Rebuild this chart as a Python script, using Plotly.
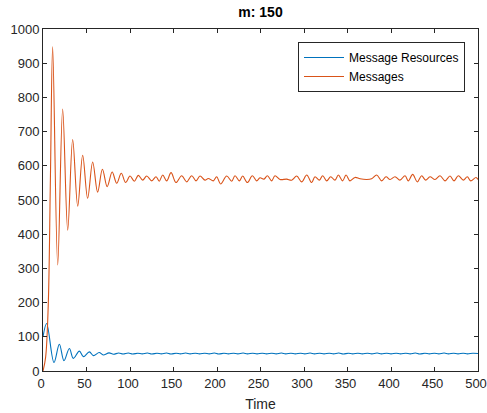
import plotly.graph_objects as go

# Simulation output for m = 150: turning points of each series over time
msg_t = [0, 3, 6, 8.5, 11.1, 16.9, 22.6, 28.4, 34.1, 39.9, 45.6, 51.3, 57.1, 62.8,
         68.3, 73.8, 79.5, 84.7, 90, 95, 100, 105, 109.6, 114.6, 119.2, 125, 129.9,
         133.6, 137.6, 142.2, 147.2, 152.9, 159.4, 165.1, 170.9, 175.9, 180.5, 186.2,
         190.0, 195.8, 199.6, 204.2, 211.1, 216.9, 220.7, 225.7, 229.5, 234.9, 240.6,
         245.6, 249.4, 254.0, 257.9, 262.8, 266.7, 272.4, 280.1, 285.8, 291.6, 297.3,
         303.1, 308.8, 312.6, 317.7, 321.5, 326.1, 330.7, 335.6, 339.5, 344.4, 348.3,
         352.9, 358.6, 364.4, 372.0, 377.7, 383.6, 389.3, 394.3, 398.9, 404.6, 410.3,
         416.1, 419.9, 424.9, 430.3, 435.2, 439.8, 444.8, 450.6, 456.3, 462.1, 467.8,
         472.4, 477.4, 483.1, 487.7, 491.6, 497.7, 500]
msg_v = [0, 40, 190, 560, 948, 310, 766, 412, 677, 482, 631, 505, 611, 523,
         590, 539, 582, 549, 578, 551, 570, 555, 572, 558, 570, 556, 568,
         555, 573, 556, 580, 551, 571, 553, 571, 556, 570, 558,
         563, 556, 568, 547, 570, 555, 571, 556, 570, 551, 571,
         556, 565, 561, 571, 556, 571, 560, 561, 558, 570, 553,
         573, 551, 568, 558, 571, 556, 568, 558, 573, 556, 573,
         556, 566, 562, 560, 562, 573, 556, 568, 560, 568, 558,
         571, 556, 575, 553, 571, 558, 568, 560, 571, 556, 570,
         556, 571, 558, 568, 556, 566, 560]

res_t = [0, 4.2, 12.6, 18.8, 24.1, 30.3, 34.9, 41.8, 46.4, 53.3, 58, 64.6, 69.2, 75.9,
         81, 87, 92, 98, 103, 109, 114, 120, 125, 131, 136, 142, 147, 153, 158, 164,
         169, 175, 180, 186, 191, 197, 202, 208, 213, 219, 224, 230, 235, 241, 246,
         252, 257, 263, 268, 274, 279, 285, 290, 296, 301, 307, 312, 318, 323, 329,
         334, 340, 345, 351, 356, 362, 367, 373, 378, 384, 389, 395, 400, 406, 411,
         417, 422, 428, 433, 439, 444, 450, 455, 461, 466, 472, 477, 483, 488, 494, 500]
res_v = [100, 139, 25, 78, 30, 66, 37, 58, 42, 56, 45, 54, 47, 53,
         49, 52.5, 49.5, 52.5, 49.5, 52, 50, 52.5, 49.5, 52, 50, 52.5, 49.5, 52, 50, 52.5,
         50, 52, 50, 52, 50, 52.5, 49.5, 52, 50, 52, 50, 52.5, 50, 52, 50,
         52, 50, 52, 50, 52.5, 50, 52, 50, 52, 50, 52.5, 50, 52, 50, 52,
         50, 52.5, 49.5, 52, 50, 52, 50, 52, 50, 52.5, 50, 52, 50, 52, 50,
         52, 50, 52.5, 49.5, 52, 50, 52, 50, 52.5, 50, 52, 50, 52, 50, 52, 51]

x_ticks = [0, 50, 100, 150, 200, 250, 300, 350, 400, 450, 500]
y_ticks = [0, 100, 200, 300, 400, 500, 600, 700, 800, 900, 1000]

BLUE = "#0072BD"
ORANGE = "#D95319"
AXIS = "#262626"
FONT = "Liberation Sans, Arial, sans-serif"

fig = go.Figure()
fig.add_trace(go.Scatter(x=res_t, y=res_v, mode="lines", name="Message Resources",
                         line=dict(color=BLUE, width=1.1, shape="spline", smoothing=1)))
fig.add_trace(go.Scatter(x=msg_t, y=msg_v, mode="lines", name="Messages",
                         line=dict(color=ORANGE, width=1.1, shape="spline", smoothing=1)))

axis_common = dict(
    showline=True, linecolor=AXIS, linewidth=1, mirror="allticks",
    ticks="inside", ticklen=4, tickcolor=AXIS, tickwidth=1,
    showgrid=False, zeroline=False, ticklabeloverflow="allow", automargin=False,
    tickfont=dict(family=FONT, size=13, color=AXIS),
)

fig.update_layout(
    width=487, height=413,
    margin=dict(l=43, r=9, t=29, b=42),
    paper_bgcolor="white", plot_bgcolor="white",
    font=dict(family=FONT, color=AXIS),
    title=dict(text="<b>m: 150</b>", x=(43 + 478) / 2 / 487, xanchor="center",
               y=1 - 12 / 413, yanchor="middle", yref="container",
               font=dict(family=FONT, size=14, color="black")),
    xaxis=dict(range=[0, 500], tickvals=x_ticks, ticktext=[str(v) for v in x_ticks],
               ticklabelshift=-2,
               title=dict(text="Time", standoff=9, font=dict(family=FONT, size=14, color=AXIS)),
               **axis_common),
    yaxis=dict(range=[0, 1000], tickvals=y_ticks, ticktext=[str(v) for v in y_ticks],
               **axis_common),
    legend=dict(x=(298 - 43) / 435, y=(371 - 42) / 342, xanchor="left", yanchor="top",
                bgcolor="white", bordercolor=AXIS, borderwidth=1,
                font=dict(family=FONT, size=12, color="black"),
                tracegroupgap=0, itemwidth=40),
    showlegend=True,
)

fig.write_html("out.html")
